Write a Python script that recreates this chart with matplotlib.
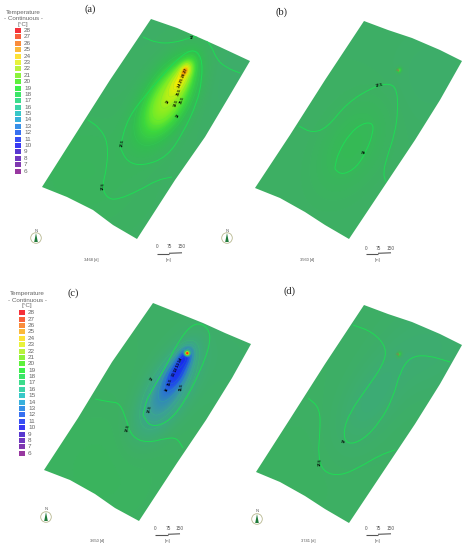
import numpy as np
import matplotlib
matplotlib.use("Agg")
import matplotlib.pyplot as plt
from matplotlib.colors import LinearSegmentedColormap
from matplotlib.patches import Circle, PathPatch, Polygon, Rectangle
from matplotlib.path import Path

plt.rcParams['font.family'] = ['Liberation Sans', 'DejaVu Sans']

# ---- legend -----
legend_values = list(range(28, 5, -1))
legend_colors = ['#f5303a', '#f8603c', '#f98c3c', '#fbb93a', '#fde238', '#e8f23c', '#b9f23c',
                 '#8cf23c', '#5df03c', '#3cf04a', '#3ce668', '#3cdc8c', '#3cd4a8', '#38c8c8',
                 '#38b0dc', '#3890e8', '#3870f0', '#3850f4', '#3838f4', '#5838d0', '#7038c0',
                 '#8038b0', '#9838a0']
legend_title = ['Temperature', '- Continuous -', '[°C]']

# ---- temperature colour scale used in the maps -----
scale_temps = [6, 8, 10, 12, 13, 14, 15, 16, 17, 18, 19, 20, 22, 24, 26, 28]
scale_rgb = [(170, 30, 150), (90, 30, 190), (20, 30, 240), (30, 70, 235), (40, 110, 215), (50, 140, 180),
             (60, 160, 150), (60, 170, 125), (62, 175, 100), (50, 190, 80), (60, 215, 60), (110, 235, 40),
             (190, 240, 20), (255, 235, 0), (255, 140, 0), (255, 30, 20)]
T_MIN, T_MAX = 6, 28

# ---- panels: outline (reference px), base temperature, anomalies -----
names = ['(a)', '(b)', '(c)', '(d)']
name_pos = [(90, 9), (281, 12), (73, 293), (289, 291)]
days = ['3468 [d]', '3560 [d]', '3650 [d]', '3741 [d]']
days_pos = [(91, 260), (307, 260), (97, 541), (308, 541)]
scale_x = [(157, 169, 182), (366, 378, 391), (155, 168, 180), (366, 378, 391)]
scale_y = [(247, 254, 260), (248, 254, 260), (529, 535, 541), (529, 535, 541)]
north_pos = [(36, 238), (227, 238), (46, 517), (257, 519)]

outline_a = [(151, 19), (177, 28), (200, 38), (220, 47), (250, 61), (230, 95), (205, 137), (175, 180), (137, 239),
             (113, 225), (93, 210), (67, 197), (42, 187), (75, 135), (110, 80)]
outline_b = [(364, 21), (388, 30), (412, 38), (440, 50), (462, 61), (440, 100), (415, 140), (385, 185), (349, 239),
             (325, 225), (305, 212), (280, 198), (255, 188), (290, 135), (325, 80)]
outline_c = [(153, 303), (178, 313), (203, 323), (225, 333), (251, 344), (232, 378), (206, 420), (177, 463), (139, 521),
             (115, 508), (95, 494), (70, 480), (44, 470), (78, 418), (112, 362)]
outline_d = [(364, 305), (388, 314), (412, 322), (440, 334), (462, 345), (440, 384), (415, 424), (385, 469), (349, 523),
             (325, 509), (305, 496), (280, 482), (256, 472), (290, 419), (325, 364)]
outlines = [outline_a, outline_b, outline_c, outline_d]

base_temps = [17.0, 17.0, 17.0, 17.0]
# cx, cy, sigma along plume, sigma across plume, amplitude
anoms_a = [(168, 98, 30, 14, 4.2), (181, 78, 13, 5.5, 3.6), (185, 70, 4.5, 3.2, 4.0),
           (85, 170, 45, 45, 0.35), (225, 75, 35, 35, -0.25)]
anoms_b = [(352, 145, 35, 20, 0.75), (430, 75, 35, 30, -0.25), (399, 70, 2, 1.5, 2.5)]
anoms_c = [(166, 392, 30, 13, -3.0), (178, 370, 15, 6.5, -3.6), (185, 356, 7, 4.5, -2.6), (187, 353, 1.5, 1.5, 20.0),
           (100, 470, 50, 50, 0.3), (225, 360, 35, 35, -0.2)]
anoms_d = [(370, 400, 38, 18, -0.65), (430, 350, 35, 30, -0.45), (399, 354, 2, 1.5, 2.5), (300, 470, 45, 40, 0.15)]
anomalies = [anoms_a, anoms_b, anoms_c, anoms_d]
plume_angle_deg = 60.0
inner_levels = [[18, 18.5, 19, 19.5, 20, 21, 22, 23, 24, 25, 26, 27], [], [16, 15.5, 15, 14, 13, 12, 11], []]

# ---- hand-read isotherms (reference px) -----
iso_a = [
    [(143, 37), (157, 43), (173, 43), (190, 38), (200, 35), (210, 43), (217, 60), (227, 68), (240, 73)],
    [(88, 120), (100, 128), (108, 143), (107, 167), (102, 187), (107, 198), (117, 200), (140, 190), (157, 180), (172, 177)],
    [(120, 147), (128, 117), (150, 90), (173, 63), (192, 48), (202, 57), (202, 80), (197, 103), (183, 133), (167, 157),
     (143, 166), (127, 162), (120, 147)],
]
iso_b = [
    [(299, 126), (312, 133), (327, 128), (347, 103), (373, 87), (390, 83), (397, 90), (398, 110), (395, 133), (387, 157),
     (383, 173), (386, 182)],
    [(335, 167), (338, 153), (350, 133), (363, 123), (373, 123), (373, 133), (367, 150), (357, 167), (343, 175), (335, 170),
     (335, 167)],
]
iso_c = [
    [(95, 399), (110, 402), (120, 403), (127, 422), (132, 437), (147, 443), (167, 438), (177, 438), (183, 448)],
    [(143, 415), (147, 398), (163, 372), (180, 338), (195, 322), (208, 327), (211, 342), (200, 372), (183, 405), (167, 423),
     (150, 427), (143, 415)],
]
iso_d = [
    [(353, 325), (373, 332), (387, 348), (383, 365), (367, 388), (350, 412), (343, 432), (347, 445), (363, 440), (380, 422),
     (393, 398), (400, 372), (410, 357), (427, 355), (450, 362)],
    [(308, 398), (320, 408), (320, 432), (318, 455), (323, 472), (340, 476), (360, 467), (380, 455), (395, 450)],
]
isotherms = [iso_a, iso_b, iso_c, iso_d]

# ---- isotherm labels: x, y, text, rotation (reference px) -----
labels_a = [(192, 38, '17', 5), (122, 143, '17.5', 80), (103, 186, '17.5', 85), (178, 116, '18', 60), (168, 102, '19', 60),
            (176, 103, '19.5', 70), (182, 100, '20.5', 70), (179, 92, '21.5', 70), (183, 78, '24 25 26 27', 68)]
labels_b = [(379, 85, '17.5', 10), (364, 152, '18', 75)]
labels_c = [(152, 379, '17', 60), (150, 409, '17.5', 75), (128, 428, '17.5', 75), (167, 390, '16', 60), (170, 382, '15.5', 70),
            (181, 387, '15.5', 80), (177, 367, '11 12 13 14', 65)]
labels_d = [(344, 441, '17', 75), (320, 462, '17.5', 85)]
labels = [labels_a, labels_b, labels_c, labels_d]
spot_pos = [None, (399, 70), None, (399, 354)]

# ---- drawing -----
fig = plt.figure(figsize=(4.66, 5.5), dpi=100)
ax = fig.add_axes([0, 0, 1, 1])
ax.set_xlim(0, 466)
ax.set_ylim(550, 0)
ax.axis('off')

cmap = LinearSegmentedColormap.from_list(
    'temp', [((t - T_MIN) / (T_MAX - T_MIN), tuple(c / 255 for c in rgb)) for t, rgb in zip(scale_temps, scale_rgb)])


def smooth_path(points):
    pts = np.asarray(points, float)
    mids = (pts[:-1] + pts[1:]) / 2
    verts, codes = [tuple(pts[0])], [Path.MOVETO]
    if len(pts) > 2:
        verts.append(tuple(mids[0])); codes.append(Path.LINETO)
        for p, m in zip(pts[1:-1], mids[1:]):
            verts += [tuple(p), tuple(m)]
            codes += [Path.CURVE3, Path.CURVE3]
    verts.append(tuple(pts[-1])); codes.append(Path.LINETO)
    return Path(verts, codes)


def temperature(X, Y, base, anoms):
    a = np.deg2rad(plume_angle_deg)
    ux, uy = -np.cos(a), np.sin(a)
    T = np.full_like(X, base, dtype=float)
    for cx, cy, sl, sc, amp in anoms:
        dx, dy = X - cx, Y - cy
        al = dx * ux + dy * uy
        ac = -dx * uy + dy * ux
        T += amp * np.exp(-0.5 * (al / sl) ** 2 - 0.5 * (ac / sc) ** 2)
    return T


for i in range(4):
    out = np.array(outlines[i], float)
    x0, x1 = out[:, 0].min() - 2, out[:, 0].max() + 2
    y0, y1 = out[:, 1].min() - 2, out[:, 1].max() + 2
    xs = np.arange(x0, x1, 0.5)
    ys = np.arange(y0, y1, 0.5)
    X, Y = np.meshgrid(xs, ys)
    T = temperature(X, Y, base_temps[i], anomalies[i])
    poly = Polygon(out, closed=True, transform=ax.transData, facecolor='none', edgecolor='none')
    ax.add_patch(poly)
    im = ax.imshow(T, extent=(x0, x1, y1, y0), cmap=cmap, vmin=T_MIN, vmax=T_MAX, aspect='auto',
                   interpolation='bilinear', zorder=1)
    im.set_clip_path(poly)
    if inner_levels[i]:
        cs = ax.contour(X, Y, T, levels=sorted(inner_levels[i]), colors='#35e060', linewidths=0.3, alpha=0.3, zorder=2)
        cs.set_clip_path(poly)
    for line in isotherms[i]:
        p = PathPatch(smooth_path(line), facecolor='none', edgecolor='#1fdc55', linewidth=0.7, zorder=3)
        ax.add_patch(p)
        p.set_clip_path(poly)
    for x, y, s, rot in labels[i]:
        ax.text(x, y, s, fontsize=2.8, fontweight='bold', color='black', rotation=rot, ha='center', va='center', zorder=5)
    if spot_pos[i]:
        ax.text(*spot_pos[i], '19', fontsize=2.8, color='#a07050', rotation=60, ha='center', va='center', zorder=5)

    # panel name and footer
    ax.text(*name_pos[i], names[i], fontsize=7.5, family='Liberation Serif', color='#222222', ha='center', va='center')
    ax.text(*days_pos[i], days[i], fontsize=2.9, color='#555555', ha='center', va='center')
    # scale bar
    sx, sy = scale_x[i], scale_y[i]
    for xv, s in zip(sx, ['0', '75', '150']):
        ax.text(xv, sy[0], s, fontsize=3.4, color='#555555', ha='center', va='center')
    ax.plot([sx[0], sx[1]], [sy[1], sy[1]], color='#555555', lw=0.8, solid_capstyle='butt')
    ax.plot([sx[1], sx[2]], [sy[1] - 0.7, sy[1] - 1.2], color='#555555', lw=0.8, solid_capstyle='butt')
    ax.text(sx[1], sy[2], '[m]', fontsize=2.9, color='#555555', ha='center', va='center')

# north arrows
for nx, ny in north_pos:
    ax.add_patch(Circle((nx, ny), 5.3, facecolor='white', edgecolor='#b8b890', linewidth=0.6, zorder=3))
    ax.add_patch(Polygon([(nx, ny - 5), (nx - 1.8, ny + 4), (nx + 1.8, ny + 4)], closed=True, facecolor='#1f7a3a',
                         edgecolor='none', zorder=4))
    ax.text(nx, ny - 7.5, 'N', fontsize=3, color='#555555', ha='center', va='center')

# legends
legend_geo = [(14.5, 30.5, 23, (12.5, 18, 24.5), 24), (18.8, 312.7, 27, (294, 300, 306), 28)]
for sw_x, sw_y, title_x, title_y, lab_x in legend_geo:
    step = 6.39
    for k, (val, col) in enumerate(zip(legend_values, legend_colors)):
        y = sw_y + k * step
        ax.add_patch(Rectangle((sw_x, y - 2.5), 6.4, 5.0, facecolor=col, edgecolor='none', zorder=3))
        ax.text(lab_x, y, str(val), fontsize=4.6, color='#666666', ha='left', va='center')
    for s, ty in zip(legend_title, title_y):
        ax.text(title_x, ty, s, fontsize=4.5, color='#666666', ha='center', va='center')

fig.savefig('out.png', dpi=100)
